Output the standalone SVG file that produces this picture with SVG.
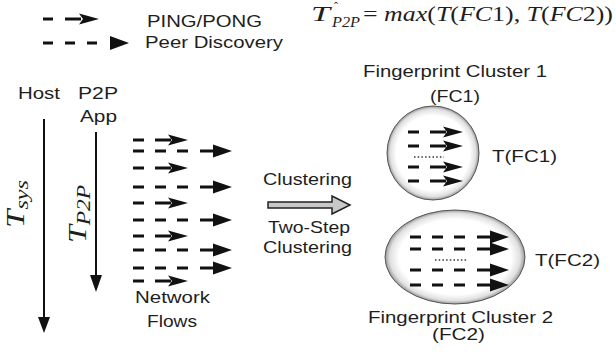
<svg xmlns="http://www.w3.org/2000/svg" xmlns:xlink="http://www.w3.org/1999/xlink" width="616" height="352" viewBox="0 0 616 352">
<style>
.t{font-family:"Liberation Sans",Arial,sans-serif;font-size:16.5px;fill:#1e1e1e}
.m{font-family:"Liberation Serif","Times New Roman",serif;fill:#1e1e1e}
.i{font-style:italic}
.d{fill:#111}
.ax{stroke:#111;stroke-width:2;fill:none}
</style>
<defs>
<g id="short">
<rect class="d" x="0" y="-1.5" width="11" height="3"/>
<rect class="d" x="22" y="-1.5" width="16" height="3"/>
<polygon class="d" points="35,-5.5 55,0 35,5.5 39,0"/>
</g>
<g id="long">
<rect class="d" x="0" y="-1.5" width="11" height="3"/>
<rect class="d" x="22" y="-1.5" width="11" height="3"/>
<rect class="d" x="44" y="-1.5" width="11" height="3"/>
<rect class="d" x="67" y="-1.5" width="14" height="3"/>
<polygon class="d" points="80,-6.5 99,0 80,6.5"/>
</g>
<radialGradient id="glow" cx="0.5" cy="0.5" r="0.5">
<stop offset="0.8" stop-color="#ffffff"/>
<stop offset="0.93" stop-color="#e0e0e0"/>
<stop offset="1" stop-color="#999999"/>
</radialGradient>
</defs>
<rect width="616" height="352" fill="#ffffff"/>

<g id="legend">
<rect class="d" x="43" y="17.5" width="10" height="3"/>
<rect class="d" x="65" y="17.5" width="16" height="3"/>
<polygon class="d" points="79,13.5 99,19 79,24.5 83,19"/>
<text class="t" x="147" y="27" textLength="115" lengthAdjust="spacingAndGlyphs">PING/PONG</text>
<rect class="d" x="43" y="41.5" width="10" height="3"/>
<rect class="d" x="65" y="41.5" width="10" height="3"/>
<rect class="d" x="87" y="41.5" width="10" height="3"/>
<polygon class="d" points="110,36 129,43 110,50"/>
<text class="t" x="145" y="48" textLength="138" lengthAdjust="spacingAndGlyphs">Peer Discovery</text>
</g>

<g id="formula">
<text class="m i" x="311" y="21" font-size="21" textLength="19" lengthAdjust="spacingAndGlyphs">T</text>
<text class="m" x="334" y="11" font-size="12">ˆ</text>
<text class="m i" x="332" y="27" font-size="15" textLength="28" lengthAdjust="spacingAndGlyphs">P2P</text>
<text class="m" x="363" y="21" font-size="21" textLength="250" lengthAdjust="spacingAndGlyphs">= <tspan class="i">max</tspan>(<tspan class="i">T</tspan>(<tspan class="i">FC</tspan>1), <tspan class="i">T</tspan>(<tspan class="i">FC</tspan>2))</text>
</g>

<g id="host">
<text class="t" x="18" y="99" textLength="42" lengthAdjust="spacingAndGlyphs">Host</text>
<line class="ax" x1="44" y1="119" x2="44" y2="318"/>
<polygon class="d" points="38,317 50,317 44,333"/>
<text class="m i" transform="translate(24,228) rotate(-90)" font-size="26" textLength="48" lengthAdjust="spacingAndGlyphs">T<tspan font-size="19" dy="4">sys</tspan></text>
</g>

<g id="p2papp">
<text class="t" x="78" y="99" textLength="40" lengthAdjust="spacingAndGlyphs">P2P</text>
<text class="t" x="80" y="122" textLength="37" lengthAdjust="spacingAndGlyphs">App</text>
<line class="ax" x1="96" y1="132" x2="96" y2="276"/>
<polygon class="d" points="90,275 102,275 96,292"/>
<text class="m i" transform="translate(86,243) rotate(-90)" font-size="26" textLength="58" lengthAdjust="spacingAndGlyphs">T<tspan font-size="19" dy="4">P2P</tspan></text>
</g>

<g id="flows">
<use xlink:href="#short" x="133" y="140"/>
<use xlink:href="#long" x="133" y="151"/>
<use xlink:href="#short" x="133" y="168"/>
<use xlink:href="#long" x="133" y="187"/>
<use xlink:href="#short" x="133" y="203"/>
<use xlink:href="#long" x="133" y="220"/>
<use xlink:href="#short" x="133" y="236"/>
<use xlink:href="#long" x="133" y="250"/>
<use xlink:href="#long" x="133" y="268"/>
<use xlink:href="#short" x="133" y="281"/>
<text class="t" x="135" y="303" textLength="75" lengthAdjust="spacingAndGlyphs">Network</text>
<text class="t" x="147" y="327" textLength="50" lengthAdjust="spacingAndGlyphs">Flows</text>
</g>

<g id="clustering">
<text class="t" x="263" y="185" textLength="89" lengthAdjust="spacingAndGlyphs">Clustering</text>
<polygon points="268,202 332,202 332,196 350,205 332,214 332,208 268,208" fill="#c8c8c8" stroke="#222" stroke-width="1.5"/>
<text class="t" x="268" y="233" textLength="82" lengthAdjust="spacingAndGlyphs">Two-Step</text>
<text class="t" x="263" y="253" textLength="89" lengthAdjust="spacingAndGlyphs">Clustering</text>
</g>

<g id="fc1">
<text class="t" x="363" y="77" textLength="184" lengthAdjust="spacingAndGlyphs">Fingerprint Cluster 1</text>
<text class="t" x="430" y="102" textLength="50" lengthAdjust="spacingAndGlyphs">(FC1)</text>
<ellipse cx="433" cy="153" rx="46" ry="47" fill="url(#glow)" stroke="#555" stroke-width="1"/>
<use xlink:href="#short" x="408" y="132"/>
<use xlink:href="#short" x="408" y="146"/>
<line x1="414" y1="157" x2="444" y2="157" stroke="#333" stroke-width="1.5" stroke-dasharray="1.5 2.2"/>
<use xlink:href="#short" x="408" y="167"/>
<use xlink:href="#short" x="408" y="181"/>
<text class="t" x="492" y="162" textLength="65" lengthAdjust="spacingAndGlyphs">T(FC1)</text>
</g>

<g id="fc2">
<ellipse cx="455" cy="257" rx="70" ry="47" fill="url(#glow)" stroke="#555" stroke-width="1"/>
<use xlink:href="#long" x="410" y="237"/>
<use xlink:href="#long" x="410" y="249"/>
<line x1="435" y1="260" x2="467" y2="260" stroke="#333" stroke-width="1.5" stroke-dasharray="1.5 2.2"/>
<use xlink:href="#long" x="410" y="270"/>
<use xlink:href="#long" x="410" y="285"/>
<text class="t" x="535" y="266" textLength="65" lengthAdjust="spacingAndGlyphs">T(FC2)</text>
<text class="t" x="368" y="323" textLength="185" lengthAdjust="spacingAndGlyphs">Fingerprint Cluster 2</text>
<text class="t" x="432" y="340" textLength="53" lengthAdjust="spacingAndGlyphs">(FC2)</text>
</g>
</svg>
